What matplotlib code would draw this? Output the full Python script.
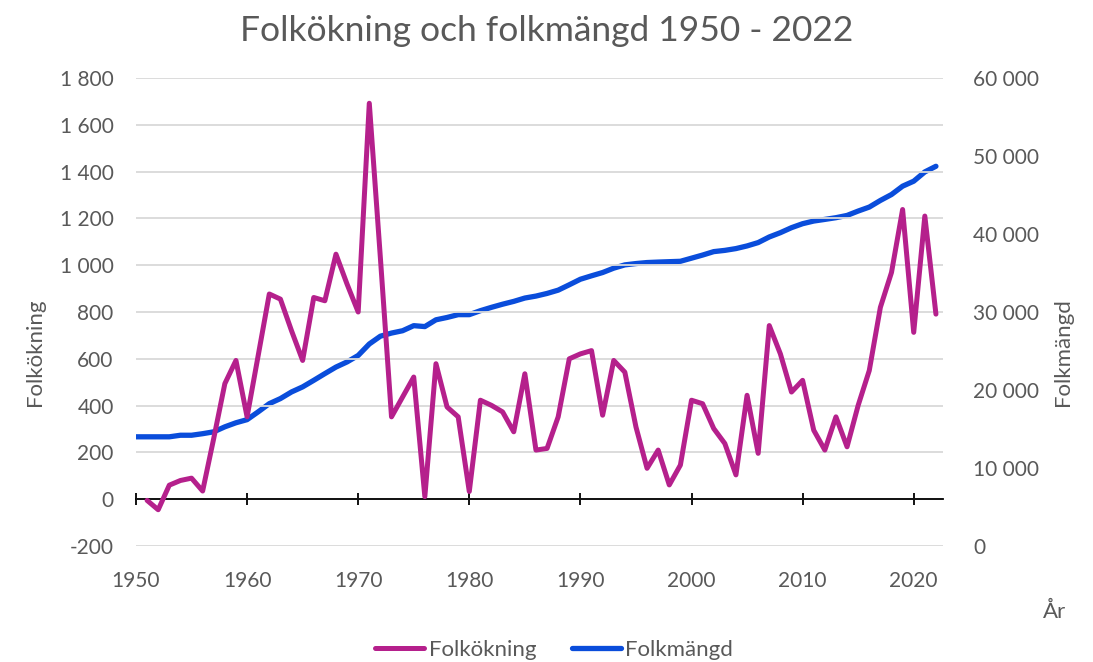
import matplotlib.pyplot as plt
from matplotlib.ticker import FuncFormatter

plt.rcParams['font.family'] = ['Lato', 'DejaVu Sans']

years_pop = list(range(1950, 2023))
years_inc = list(range(1951, 2023))

folkokning = [-5, -45, 60, 80, 90, 35, 260, 494, 593, 352,
              614, 877, 855, 720, 593, 862, 848, 1047, 919, 800,
              1692, 1030, 352, 437, 522, 11, 579, 394, 352, 33,
              423, 401, 373, 288, 536, 210, 217, 352, 600, 621,
              635, 359, 593, 543, 309, 132, 210, 61, 146, 423,
              408, 302, 238, 104, 444, 196, 742, 621, 458, 508,
              295, 210, 352, 224, 401, 550, 820, 969, 1238, 713,
              1210, 791]

folkmangd = [14000, 14000, 14000, 14000, 14200, 14200, 14400, 14640, 15280, 15800,
             16200, 17200, 18250, 18900, 19750, 20400, 21240, 22100, 22940, 23600,
             24430, 25900, 26900, 27300, 27600, 28250, 28130, 29000, 29300, 29660,
             29660, 30170, 30600, 31000, 31360, 31790, 32040, 32380, 32800, 33490,
             34200, 34640, 35060, 35620, 36040, 36210, 36340, 36400, 36450, 36500,
             36900, 37300, 37740, 37900, 38130, 38470, 38900, 39620, 40170, 40810,
             41320, 41660, 41870, 42090, 42380, 42940, 43450, 44300, 45060, 46130,
             46770, 47960, 48680]

grey = '#595959'
magenta = '#B5208C'
blue = '#0A4DDB'

fig = plt.figure(figsize=(10.93, 6.62), dpi=100)
ax = fig.add_axes([0.1244, 0.1752, 0.738, 0.707])
ax2 = ax.twinx()

ax.set_xlim(1950, 2022.6)
ax.set_ylim(-200, 1800)
ax.set_yticks(range(-200, 1801, 200))
ax2.set_ylim(0, 60000)
ax2.set_yticks(range(0, 60001, 10000))

ax.grid(axis='y', color='#d9d9d9', linewidth=1.3)
ax.set_axisbelow(True)

l1, = ax.plot(years_inc, folkokning, color=magenta, linewidth=3.6,
              solid_capstyle='round', label='Folkökning', zorder=3)
l2, = ax2.plot(years_pop, folkmangd, color=blue, linewidth=3.8,
               solid_capstyle='round', label='Folkmängd', zorder=3)
ax.set_zorder(ax2.get_zorder() + 1)
ax.patch.set_visible(False)

for a in (ax, ax2):
    for s in ('top', 'left', 'right'):
        a.spines[s].set_visible(False)
ax2.spines['bottom'].set_visible(False)
ax.spines['bottom'].set_position(('data', 0))
ax.spines['bottom'].set_color('black')
ax.spines['bottom'].set_linewidth(1.3)

ax.set_xticks(range(1950, 2021, 10))
ax.tick_params(axis='x', direction='inout', length=9, width=1.3, color='black',
               pad=47, labelsize=15, labelcolor=grey)
ax.tick_params(axis='y', length=0, pad=16, labelsize=15, labelcolor=grey)
ax2.tick_params(axis='y', length=0, pad=22, labelsize=15, labelcolor=grey)

thousands = FuncFormatter(lambda v, p: f'{int(v):,}'.replace(',', ' '))
ax.yaxis.set_major_formatter(thousands)
ax2.yaxis.set_major_formatter(thousands)

fig.text(0.032, 0.468, 'Folkökning', rotation=90, ha='center', va='center',
         fontsize=16, color=grey)
fig.text(0.973, 0.468, 'Folkmängd', rotation=90, ha='center', va='center',
         fontsize=16, color=grey)
fig.text(0.965, 0.075, 'År', ha='center', va='center', fontsize=16, color=grey)
fig.suptitle('Folkökning och folkmängd 1950 - 2022', y=0.978, fontsize=25.5, color=grey)

fig.legend(handles=[l1, l2], loc='center', bbox_to_anchor=(0.507, 0.018),
           ncol=2, frameon=False, fontsize=16, labelcolor=grey,
           handlelength=2.2, handletextpad=0.2, columnspacing=1.6)

fig.savefig('out.png', dpi=100)
